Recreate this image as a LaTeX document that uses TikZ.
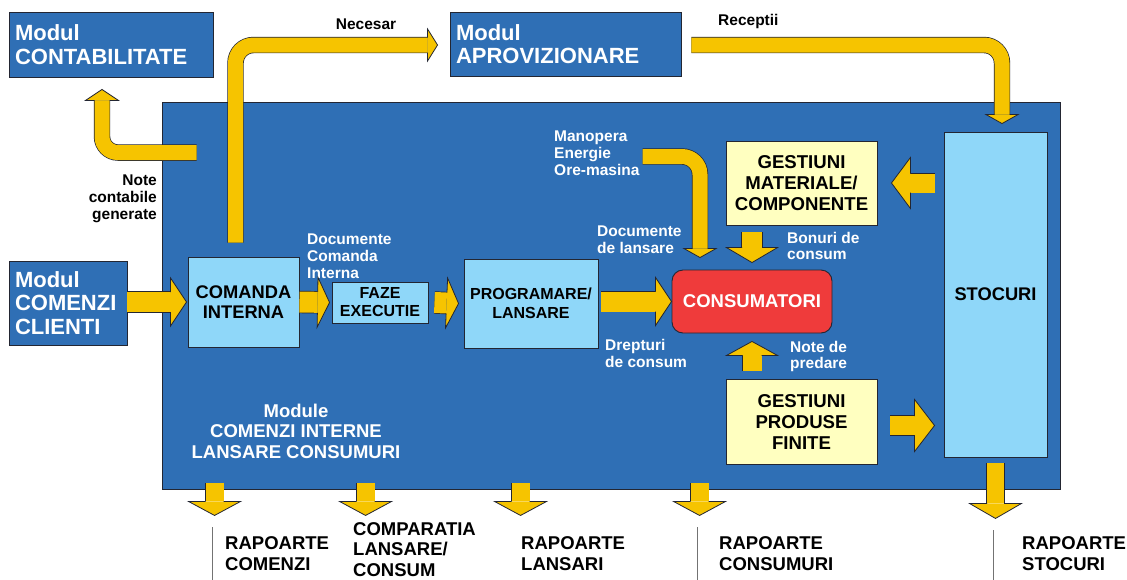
\documentclass[tikz,border=0pt]{standalone}
\usepackage{fontspec}
\setmainfont{Liberation Sans}
\usetikzlibrary{calc}

\definecolor{modblue}{RGB}{47,111,181}
\definecolor{lightblue}{RGB}{143,215,249}
\definecolor{paleyellow}{RGB}{255,255,192}
\definecolor{flowyellow}{RGB}{246,196,0}
\definecolor{consred}{RGB}{239,59,59}
\definecolor{edge}{RGB}{35,38,50}

% head of a fat arrow: base, tip, half shaft, half head
\newcommand{\flowhead}[4]{%
  \fill[flowyellow] ($(#1)!#4!90:(#2)$) -- (#2) -- ($(#1)!#4!-90:(#2)$) -- cycle;
  \draw[edge, line width=0.8pt] ($(#1)!#3!90:(#2)$) -- ($(#1)!#4!90:(#2)$) -- (#2)
     -- ($(#1)!#4!-90:(#2)$) -- ($(#1)!#3!-90:(#2)$);
}
% straight fat arrow: from, tip, half shaft, half head, head length
\newcommand{\flowarrow}[5]{%
  \coordinate (fs) at (#1);
  \coordinate (ft) at (#2);
  \coordinate (fb) at ($(ft)!#5!(fs)$);
  \draw[shaft=#3] (fs) -- (fb);
  \flowhead{fb}{ft}{#3}{#4}
}

\tikzset{
  modul/.style={draw=edge, line width=0.9pt, fill=modblue, text=white, align=left,
    inner xsep=6pt, inner ysep=0pt, font=\fontsize{22}{23.5}\selectfont\bfseries},
  area/.style={draw=edge, line width=0.9pt, fill=modblue, inner sep=0pt},
  proc/.style={draw=edge, line width=0.9pt, fill=lightblue, align=center, inner sep=0pt,
    font=\fontsize{18.3}{19.5}\selectfont\bfseries},
  gest/.style={draw=edge, line width=0.9pt, fill=paleyellow, align=center, inner sep=0pt,
    font=\fontsize{18.6}{21}\selectfont\bfseries},
  consbox/.style={draw=edge, line width=0.9pt, fill=consred, rounded corners=11pt, text=white,
    inner sep=0pt, font=\fontsize{18.5}{20}\selectfont\bfseries},
  note/.style={text=white, align=left, inner sep=0pt, font=\fontsize{15.5}{16.8}\selectfont\bfseries},
  report/.style={align=left, inner sep=0pt, anchor=north west, font=\fontsize{18.5}{20.5}\selectfont\bfseries},
  shaft/.style={line width=2*#1, draw=flowyellow, preaction={draw=edge, line width=2*#1+1.4pt}},
  tick/.style={draw=black!55, line width=1pt}
}

\begin{document}
\begin{tikzpicture}[x=1pt, y=-1pt]

  \useasboundingbox[fill=white] (0,0) rectangle (1127,579);

  % big module area
  \node[area, minimum width=898pt, minimum height=387pt] (main) at (611,295.5) {};

  % outside modules
  \node[modul, minimum width=204pt, minimum height=65pt, text width=192pt] (contab) at (111,44.5) {Modul\\CONTABILITATE};
  \node[modul, minimum width=231pt, minimum height=64pt, text width=219pt] (aprov) at (565.5,44) {Modul\\APROVIZIONARE};
  \node[modul, minimum width=118pt, minimum height=84pt, text width=106pt] (clienti) at (68,303) {Modul\\COMENZI\\CLIENTI};

  % inner boxes
  \node[proc, minimum width=111pt, minimum height=90pt] (comanda) at (243.5,302) {COMANDA\\INTERNA};
  \node[proc, minimum width=96pt, minimum height=41pt, font=\fontsize{16}{18}\selectfont\bfseries] (faze) at (380,302.5) {FAZE\\EXECUTIE};
  \node[proc, minimum width=134pt, minimum height=89pt, font=\fontsize{16}{18.5}\selectfont\bfseries] (prog) at (531,303.5) {PROGRAMARE/\\LANSARE};
  \node[consbox, minimum width=160pt, minimum height=63pt] (cons) at (752,301.5) {CONSUMATORI};
  \node[gest, minimum width=151pt, minimum height=84pt] (gestmat) at (801.5,183) {GESTIUNI\\MATERIALE/\\COMPONENTE};
  \node[gest, minimum width=151pt, minimum height=85pt] (gestprod) at (801.5,421.5) {GESTIUNI\\PRODUSE\\FINITE};
  \node[proc, minimum width=103pt, minimum height=325pt] (stocuri) at (995.5,294.5) {STOCURI};

  % labels
  \node[note, text=black] (necesar) at (366,24) {Necesar};
  \node[note, text=black, anchor=west] (receptii) at (718,21) {Receptii};
  \node[note, text=black, anchor=east, align=right] (notecont) at (157,199) {Note\\contabile\\generate};
  \node[note, anchor=west] (doccmd) at (307,256) {Documente\\Comanda\\Interna};
  \node[note, anchor=west] (manop) at (554,153.5) {Manopera\\Energie\\Ore-masina};
  \node[note, anchor=west] (doclans) at (597,240) {Documente\\de lansare};
  \node[note, anchor=west] (bonuri) at (787,246) {Bonuri de\\consum};
  \node[note, anchor=west] (drept) at (605,353.5) {Drepturi\\de consum};
  \node[note, anchor=west] (predare) at (790,356.5) {Note de\\predare};
  \node[note, align=center, font=\fontsize{18.5}{20.5}\selectfont\bfseries] (modtitle) at (296,431) {Module\\COMENZI INTERNE\\LANSARE CONSUMURI};

  % bent arrows
  \coordinate (nb) at ($(aprov.west)+(-22,1)$);
  \coordinate (nt) at ($(aprov.west)+(-12,1)$);
  \draw[shaft=7.5pt, rounded corners=18pt] ($(comanda.north)+(-8,-14)$) |- (nb);
  \flowhead{nb}{nt}{7.5pt}{16pt}

  \coordinate (rb) at ($(stocuri.north)+(6.5,-17)$);
  \coordinate (rt) at ($(stocuri.north)+(6.5,-8)$);
  \draw[shaft=7.5pt, rounded corners=18pt] ($(aprov.east)+(10,1)$) -| (rb);
  \flowhead{rb}{rt}{7.5pt}{16pt}

  \coordinate (cb) at ($(contab.south)+(-9,23)$);
  \coordinate (ct) at ($(contab.south)+(-9,12)$);
  \draw[shaft=7.5pt, rounded corners=16pt] ($(main.north west)+(35,51)$) -| (cb);
  \flowhead{cb}{ct}{7.5pt}{16.5pt}

  \coordinate (mb) at ($(cons.north)+(-52,-21)$);
  \coordinate (mt) at ($(cons.north)+(-52,-12)$);
  \draw[shaft=7.5pt, rounded corners=18pt] ($(manop.east)+(3,3)$) -| (mb);
  \flowhead{mb}{mt}{7.5pt}{16pt}

  % straight arrows
  \flowarrow{clienti.east |- comanda.west}{$(comanda.west)+(-1,0)$}{10pt}{24pt}{16pt}
  \flowarrow{comanda.east}{$(faze.west)+(-2,0)$}{10.5pt}{25pt}{12pt}
  \flowarrow{$(faze.east)+(6,0)$}{$(prog.west)+(-5,0)$}{10.5pt}{25pt}{12pt}
  \flowarrow{$(prog.east |- cons.west)+(3,0)$}{cons.west}{10pt}{24pt}{16pt}
  \flowarrow{$(cons.north |- gestmat.south)+(0,7)$}{$(cons.north)+(0,-7)$}{10pt}{25.5pt}{15pt}
  \flowarrow{$(cons.south |- gestprod.north)+(0,-8)$}{$(cons.south)+(0,8)$}{9.5pt}{25.5pt}{14pt}
  \flowarrow{$(stocuri.west |- gestmat.east)+(-9,0)$}{$(gestmat.east)+(14,0)$}{9.5pt}{25.5pt}{19pt}
  \flowarrow{$(gestprod.east)+(13,4)$}{$(stocuri.west |- gestprod.east)+(-9,4)$}{9.5pt}{26pt}{20pt}

  % reports
  \foreach \dx [count=\i] in {53,204,359,538}{
    \coordinate (t\i) at ($(main.south west)+(\dx,26)$);
    \flowarrow{$(main.south west)+(\dx,-6)$}{t\i}{9pt}{26pt}{14pt}
  }
  \coordinate (t5) at ($(stocuri.south)+(0,61)$);
  \flowarrow{$(stocuri.south)+(0,6)$}{t5}{8.5pt}{26pt}{15pt}

  \node[report] (rep1) at (225,536.5) {RAPOARTE\\COMENZI};
  \node[report] (rep2) at (353,522) {COMPARATIA\\LANSARE/\\CONSUM};
  \node[report] (rep3) at (521,536.5) {RAPOARTE\\LANSARI};
  \node[report] (rep4) at (719,536.5) {RAPOARTE\\CONSUMURI};
  \node[report] (rep5) at (1022,536.5) {RAPOARTE\\STOCURI};

  \foreach \t in {t1,t4,t5}{
    \draw[tick] ($(\t)+(-2,12)$) -- ++(0,55);
  }

\end{tikzpicture}
\end{document}
